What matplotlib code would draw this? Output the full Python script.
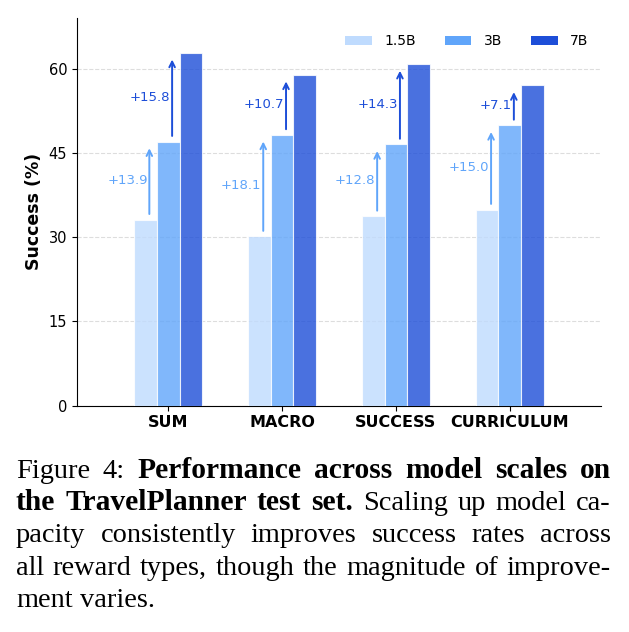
import numpy as np
import matplotlib
matplotlib.use("Agg")
import matplotlib.pyplot as plt
from matplotlib.patches import Patch

# data
categories = ["SUM", "MACRO", "SUCCESS", "CURRICULUM"]
sizes = ["1.5B", "3B", "7B"]
succ_15b = [33.1, 30.1, 33.7, 34.9]
succ_3b = [47.0, 48.2, 46.5, 49.9]
succ_7b = [62.8, 58.9, 60.8, 57.0]
y_ticks = [0, 15, 30, 45, 60]

colors = ["#bfdbfe", "#60a5fa", "#1d4ed8"]

W, H = 629, 632
fig = plt.figure(figsize=(W / 100, H / 100), dpi=100)
ax = fig.add_axes([77 / W, (H - 405.5) / H, (601 - 77) / W, (405.5 - 18) / H])

x = np.arange(len(categories))
width = 0.2
series = [succ_15b, succ_3b, succ_7b]
for k, vals in enumerate(series):
    ax.bar(x + (k - 1) * width, vals, width, color=colors[k], alpha=0.8,
           edgecolor="white", linewidth=0.8, zorder=3)

# improvement arrows
for i in range(len(categories)):
    steps = [(succ_15b[i], succ_3b[i], -0.165, colors[1]),
             (succ_3b[i], succ_7b[i], 0.035, colors[2])]
    for lo, hi, dx, c in steps:
        ax.annotate("", xy=(i + dx, hi - 0.7), xytext=(i + dx, lo + 0.5),
                    arrowprops=dict(arrowstyle="->", color=c, lw=1.4), zorder=4)
        ax.text(i + dx - 0.015, (lo + hi) / 2, "+%.1f" % (hi - lo), color=c,
                ha="right", va="center", fontsize=9.5, zorder=5)

ax.set_xlim(-0.8, 3.8)
ax.set_ylim(0, 69)
ax.set_xticks(x)
ax.set_xticklabels(categories, fontsize=11.5, fontweight="bold")
ax.set_yticks(y_ticks)
ax.tick_params(axis="y", labelsize=10.5)
ax.set_ylabel("Success (%)", fontsize=12.5, fontweight="bold")
ax.yaxis.grid(True, linestyle="--", color="#dddddd", linewidth=0.8, zorder=0)
ax.spines["top"].set_visible(False)
ax.spines["right"].set_visible(False)

handles = [Patch(facecolor=c, label=s) for c, s in zip(colors, sizes)]
ax.legend(handles=handles, loc="upper right", ncol=3, frameon=False,
          fontsize=10, handlelength=1.9, columnspacing=2.1, handletextpad=0.9,
          bbox_to_anchor=(1.0, 0.99))

# caption, justified line by line
caption = [
    [("Figure 4:", False), ("Performance across model scales on", True)],
    [("the TravelPlanner test set.", True), ("Scaling up model ca-", False)],
    [("pacity consistently improves success rates across", False)],
    [("all reward types, though the magnitude of improve-", False)],
    [("ment varies.", False)],
]
baselines = [478, 510.5, 542.5, 575, 607]
x_left, x_right = 16, 611
span = x_right - x_left
renderer = fig.canvas.get_renderer()


def text_width(s, size, bold):
    t = fig.text(0, 0, s, fontsize=size, family="Liberation Serif",
                 fontweight="bold" if bold else "normal")
    w = t.get_window_extent(renderer).width
    t.remove()
    return w


def natural(s, size, bold):
    words = s.split()
    return (sum(text_width(w, size, bold) for w in words)
            + (len(words) - 1) * 0.3 * size * 100 / 72)


# regular size from the widest plain line, bold a touch wider like the reference
ref = 20.0
reg_size = min(ref * span / natural(caption[k][0][0], ref, False) for k in (2, 3))
bold_size = reg_size * 1.04

for li, line in enumerate(caption):
    words = []
    for seg, bold in line:
        for w in seg.split():
            words.append((w, bold))
    texts = []
    for w, bold in words:
        t = fig.text(0, 1 - baselines[li] / H, w,
                     fontsize=bold_size if bold else reg_size,
                     family="Liberation Serif",
                     fontweight="bold" if bold else "normal", va="baseline")
        texts.append(t)
    widths = [t.get_window_extent(renderer).width for t in texts]
    if li < len(caption) - 1:
        gap = (span - sum(widths)) / (len(texts) - 1)
    else:
        gap = reg_size * 0.25 * 100 / 72
    cur = x_left
    for t, wd in zip(texts, widths):
        t.set_x(cur / W)
        cur += wd + gap

fig.savefig("out.png", dpi=100)
